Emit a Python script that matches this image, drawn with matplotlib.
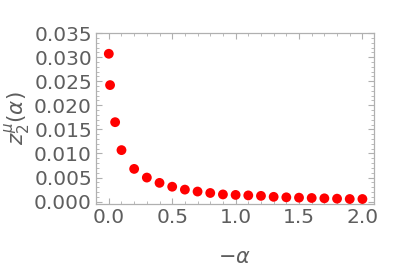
import numpy as np
import matplotlib
matplotlib.use('Agg')
import matplotlib.pyplot as plt
from matplotlib.ticker import MultipleLocator

# data
neg_alpha = [0.0, 0.01, 0.05, 0.1, 0.2, 0.3, 0.4, 0.5, 0.6, 0.7, 0.8, 0.9,
             1.0, 1.1, 1.2, 1.3, 1.4, 1.5, 1.6, 1.7, 1.8, 1.9, 2.0]
z2 = [0.0307, 0.0242, 0.0165, 0.0107, 0.0068, 0.0050, 0.0039, 0.0031,
      0.0025, 0.0021, 0.0018, 0.0015, 0.0014, 0.0013, 0.0012, 0.0010,
      0.0009, 0.00083, 0.00076, 0.00069, 0.00062, 0.00055, 0.00055]

txt = '#5e5e5e'
frame = '#b0b0b0'

fig = plt.figure(figsize=(4.09, 2.71), dpi=100)
ax = fig.add_axes([0.235, 0.247, 0.679, 0.631])

ax.scatter(neg_alpha, z2, s=50, color='#ff0000', edgecolors='none', zorder=3)

ax.set_xlim(-0.1, 2.09)
ax.set_ylim(-0.0005, 0.035)
ax.xaxis.set_major_locator(MultipleLocator(0.5))
ax.xaxis.set_minor_locator(MultipleLocator(0.1))
ax.yaxis.set_major_locator(MultipleLocator(0.005))
ax.yaxis.set_minor_locator(MultipleLocator(0.001))
ax.xaxis.set_major_formatter(plt.FuncFormatter(lambda v, p: '%.1f' % v))
ax.yaxis.set_major_formatter(plt.FuncFormatter(lambda v, p: '%.3f' % v))

for s in ax.spines.values():
    s.set_color(frame)
    s.set_linewidth(0.9)

ax.tick_params(which='both', direction='in', top=True, right=True,
               color=frame, labelcolor=txt, labelsize=14.5)
ax.tick_params(which='major', length=4, width=0.8, pad=3)
ax.tick_params(which='minor', length=2.2, width=0.6)

ax.set_xlabel(r'$-\alpha$', fontsize=15, color=txt, labelpad=14)
ax.set_ylabel(r'$z_2^{\mu}(\alpha)$', fontsize=15.5, color=txt, labelpad=1)

fig.savefig('out.png', dpi=100)
